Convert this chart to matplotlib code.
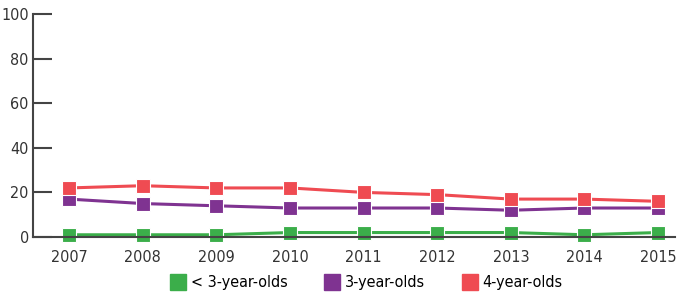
import numpy as np
import matplotlib.pyplot as plt

years = [2007, 2008, 2009, 2010, 2011, 2012, 2013, 2014, 2015]
under3 = [1, 1, 1, 2, 2, 2, 2, 1, 2]
age3 = [17, 15, 14, 13, 13, 13, 12, 13, 13]
age4 = [22, 23, 22, 22, 20, 19, 17, 17, 16]

names = ['< 3-year-olds', '3-year-olds', '4-year-olds']
colors = ['#3bae4a', '#7f3391', '#ef4b52']

plt.rcParams['font.family'] = ['DejaVu Sans']
plt.rcParams['font.stretch'] = 'condensed'

fig = plt.figure(figsize=(6.78, 2.94), dpi=100)
ax = fig.add_axes([33/678, 1-237/294, (675-33)/678, (237-14)/294])

for vals, c, n in zip([under3, age3, age4], colors, names):
    ax.plot(years, vals, color=c, lw=2.2, marker='s', ms=10.5, mec='white', mew=0.8, label=n, clip_on=False)

ax.set_xlim(2006.51, 2015.23)
ax.set_ylim(0, 100)
ax.set_yticks([0, 20, 40, 60, 80, 100])
ax.set_xticks(years)
for s in ['top', 'right']:
    ax.spines[s].set_visible(False)
for s in ['left', 'bottom']:
    ax.spines[s].set_color('#444444')
    ax.spines[s].set_linewidth(1.5)
ax.tick_params(axis='y', direction='in', length=14, width=1.5, color='#444444', labelsize=11.5, labelcolor='#333333', pad=3)
ax.tick_params(axis='x', length=0, labelsize=11.5, labelcolor='#333333', pad=9)

handles = [plt.Line2D([], [], ls='none', marker='s', ms=12, color=c) for c in colors]
fig.legend(handles, names, loc='center', bbox_to_anchor=(0.54, 1-283/294), ncol=3, frameon=False,
           fontsize=11.5, handletextpad=0.3, columnspacing=2.3, handlelength=1)

fig.savefig('out.png', dpi=100)
